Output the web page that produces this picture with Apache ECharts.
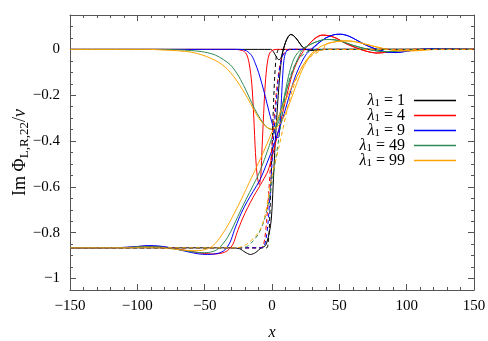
<!DOCTYPE html>
<html>
<head>
<meta charset="utf-8">
<script src="https://cdn.jsdelivr.net/npm/echarts@6/dist/echarts.min.js"></script>
<style>
  html, body { margin: 0; padding: 0; background: #fff; }
  #chart { width: 488px; height: 341px; }
</style>
</head>
<body>
<div id="chart"></div>
<script>
// λ values and line colours
const lambdas = [1, 4, 9, 49, 99];
const colors = ['#000000', '#ff0000', '#0000ff', '#2e8b57', '#ffa500'];

// solid curves starting at -0.866 on the left
const black_A = [[-150,-0.866],[-30,-0.866],[-24,-0.87],[-20,-0.885],[-16,-0.895],[-12,-0.886],[-8,-0.866],[-5.5,-0.86],[-4,-0.845],[-2,-0.8],[-0.5,-0.74],[0.8,-0.6],[2,-0.45],[3.5,-0.3],[5,-0.17],[6.5,-0.07],[8,-0.01],[10,0.03],[12,0.055],[14,0.065],[16,0.06],[19,0.04],[22,0.015],[25,0],[30,-0.004],[40,0],[150,0]];
const red_A = [[-150,-0.866],[-110,-0.865],[-95,-0.859],[-85,-0.86],[-75,-0.866],[-65,-0.876],[-55,-0.887],[-45,-0.893],[-38,-0.89],[-33,-0.878],[-29,-0.85],[-26,-0.8],[-22,-0.74],[-18,-0.69],[-14,-0.645],[-10,-0.605],[-7,-0.575],[-3,-0.53],[0,-0.47],[3,-0.4],[7,-0.3],[11,-0.2],[15,-0.11],[19,-0.05],[23,-0.01],[27,0.02],[32,0.048],[37,0.062],[42,0.06],[48,0.048],[55,0.025],[62,0.008],[70,-0.008],[78,-0.016],[86,-0.012],[95,-0.004],[105,0],[150,0]];
const blue_A = [[-150,-0.866],[-115,-0.865],[-100,-0.86],[-92,-0.856],[-84,-0.858],[-75,-0.866],[-65,-0.88],[-55,-0.892],[-48,-0.895],[-40,-0.89],[-35,-0.875],[-31,-0.84],[-28,-0.79],[-24,-0.73],[-19,-0.67],[-14,-0.62],[-9,-0.57],[-4,-0.5],[0,-0.44],[4,-0.37],[8,-0.3],[12,-0.22],[16,-0.14],[20,-0.08],[25,-0.025],[29,0],[34,0.025],[40,0.05],[46,0.064],[51,0.066],[57,0.058],[63,0.04],[70,0.018],[77,0.002],[84,-0.01],[92,-0.014],[100,-0.008],[110,0],[120,0.003],[130,0.003],[140,0.001],[150,0]];
const green_A = [[-150,-0.866],[-110,-0.865],[-98,-0.861],[-88,-0.861],[-78,-0.866],[-68,-0.875],[-58,-0.884],[-50,-0.887],[-44,-0.882],[-40,-0.87],[-36,-0.845],[-32,-0.81],[-27,-0.75],[-21,-0.675],[-15,-0.605],[-10,-0.545],[-5,-0.47],[0,-0.385],[4,-0.315],[8,-0.235],[12,-0.155],[16,-0.085],[20,-0.03],[23,0],[28,0.02],[34,0.035],[40,0.043],[46,0.042],[53,0.032],[60,0.018],[68,0.005],[76,-0.005],[84,-0.01],[92,-0.008],[100,-0.003],[110,0],[150,0]];
const orange_A = [[-150,-0.866],[-110,-0.866],[-95,-0.864],[-85,-0.866],[-75,-0.87],[-66,-0.876],[-60,-0.878],[-55,-0.878],[-50,-0.874],[-46,-0.865],[-43,-0.852],[-40,-0.832],[-37,-0.807],[-33,-0.77],[-28,-0.715],[-22,-0.645],[-16,-0.57],[-10,-0.495],[-5,-0.43],[0,-0.36],[4,-0.305],[8,-0.25],[13,-0.185],[18,-0.125],[23,-0.07],[28,-0.028],[33,0],[40,0.022],[48,0.034],[55,0.037],[62,0.033],[70,0.022],[78,0.01],[86,0],[95,-0.006],[105,-0.006],[115,-0.002],[125,0],[150,0]];

// solid curves starting at 0 on the left (left part; they meet the A curves at joinX)
const black_B = [[-150,0],[-1,0],[1,-0.01],[3,-0.03],[5,-0.045],[6.5,-0.04],[8,-0.01]];
const red_B = [[-150,0],[-28,0],[-22,-0.005],[-19,-0.02],[-17,-0.06],[-15,-0.15],[-13.5,-0.3],[-12.3,-0.45],[-11,-0.55],[-9.5,-0.59],[-8.3,-0.55],[-7.3,-0.42],[-6.2,-0.28],[-5,-0.15],[-3.5,-0.06],[-2,-0.02],[0,-0.005],[3,0],[23,0]];
const blue_B = [[-150,0],[-24,0],[-19,-0.006],[-15,-0.028],[-12.5,-0.06],[-10,-0.1],[-7.5,-0.15],[-5,-0.205],[-2.5,-0.265],[0,-0.32],[2,-0.36],[3.5,-0.385],[4.8,-0.385],[5.8,-0.34],[6.8,-0.24],[7.8,-0.13],[8.8,-0.05],[10.3,-0.012],[13,0],[28,0]];
const green_B = [[-150,0],[-85,0],[-70,-0.002],[-60,-0.005],[-50,-0.012],[-42,-0.025],[-36,-0.045],[-31,-0.067],[-26,-0.105],[-21,-0.158],[-17,-0.208],[-13,-0.258],[-9,-0.3],[-5,-0.333],[-2,-0.347],[1,-0.35],[4,-0.33],[7,-0.27],[10,-0.18],[13,-0.1],[16,-0.045],[19,-0.015],[22,0]];
const orange_B = [[-150,0],[-92,0],[-80,-0.003],[-70,-0.006],[-60,-0.012],[-52,-0.024],[-45,-0.04],[-40,-0.055],[-35,-0.076],[-31,-0.1],[-26,-0.138],[-22,-0.175],[-18,-0.214],[-14,-0.258],[-10,-0.298],[-6,-0.328],[-3,-0.343],[0,-0.348],[3,-0.343],[6,-0.325],[10,-0.28],[14,-0.22],[18,-0.155],[22,-0.095],[26,-0.05],[30,-0.02],[34,-0.005],[38,0]];
const joinX = [10, 27, 29, 28, 40];

// dashed curves
const black_S = [[-150,-0.866],[-4,-0.866],[-3,-0.85],[-2,-0.78],[-1,-0.62],[0,-0.44],[1,-0.26],[2,-0.12],[3,-0.04],[4,-0.01],[5,0],[150,0]];
const red_S = [[-150,-0.866],[-9,-0.866],[-7,-0.86],[-5.5,-0.83],[-4,-0.75],[-2.5,-0.63],[-1,-0.5],[0.5,-0.38],[2,-0.27],[3.5,-0.17],[5,-0.1],[7,-0.04],[10,-0.01],[14,0],[150,0]];
const blue_S = [[-150,-0.866],[-8,-0.866],[-6,-0.86],[-4.5,-0.83],[-3,-0.76],[-1.5,-0.64],[0,-0.5],[1.5,-0.36],[3,-0.24],[4.5,-0.14],[6,-0.07],[8,-0.025],[11,-0.005],[14,0],[150,0]];
const green_S = [[-150,-0.866],[-22,-0.866],[-18,-0.858],[-14,-0.836],[-10,-0.805],[-6,-0.75],[-3,-0.68],[0,-0.58],[3,-0.47],[6,-0.35],[8,-0.27],[10,-0.2],[13,-0.13],[16,-0.08],[20,-0.04],[25,-0.015],[32,0],[150,0]];
const orange_S = [[-150,-0.866],[-26,-0.866],[-22,-0.86],[-18,-0.847],[-13,-0.82],[-9,-0.79],[-5,-0.72],[-2,-0.62],[0,-0.55],[2.5,-0.49],[5,-0.43],[8,-0.35],[11,-0.27],[14,-0.2],[18,-0.13],[23,-0.07],[28,-0.035],[34,-0.012],[40,0],[150,0]];

// axis ticks
const yMajor = [-1, -0.8, -0.6, -0.4, -0.2, 0];

const FONT = '"Liberation Serif", "DejaVu Serif", serif';
const frame = '#555';

const solidA = [black_A, red_A, blue_A, green_A, orange_A];
const solidB = [black_B, red_B, blue_B, green_B, orange_B];
const dashed = [black_S, red_S, blue_S, green_S, orange_S];
const names = lambdas.map(l => 'l' + l);

function fmt(v) {
  const r = Math.round(v * 10) / 10;
  if (r === 0) return '0';
  return (r < 0 ? '\u2212' : '') + Math.abs(r);
}

function line(name, data, color, type, smooth) {
  return { name: name, type: 'line', data: data, symbol: 'none', smooth: smooth,
    lineStyle: { color: color, width: 1, type: type || 'solid' }, itemStyle: { color: color } };
}

let series = [];
solidA.forEach((a, i) => {
  series.push(line(names[i], a, colors[i], 'solid', i >= 3 ? 0.45 : 0.3));
  let b = solidB[i].concat(a.filter(p => p[0] >= joinX[i]));
  series.push(line(names[i], b, colors[i], 'solid', 0.3));
});
dashed.forEach((d, i) => {
  series.push(line(names[i], d, colors[i], [4, 3], 0.3));
});

const tickStyle = { color: frame, width: 1 };
function xAx(pos, labels) {
  return {
    type: 'value', min: -150, max: 150, interval: 50, position: pos,
    axisLine: { show: true, onZero: false, lineStyle: tickStyle },
    axisTick: { inside: true, length: 6, lineStyle: tickStyle },
    minorTick: { show: true, splitNumber: 5, length: 3, lineStyle: tickStyle },
    splitLine: { show: false },
    axisLabel: { show: labels, margin: 9, color: '#000', fontFamily: FONT, fontSize: 15, formatter: fmt },
    name: labels ? 'x' : '', nameLocation: 'middle', nameGap: 35, nameMoveOverlap: false,
    nameTextStyle: { fontFamily: FONT, fontStyle: 'italic', fontSize: 16, color: '#000' }
  };
}
function yMajorAx(pos, labels) {
  return {
    type: 'value', min: -1.05, max: 0.15, position: pos,
    axisLine: { show: true, onZero: false, lineStyle: tickStyle },
    axisTick: { inside: true, length: 6, lineStyle: tickStyle, customValues: yMajor },
    splitLine: { show: false },
    axisLabel: { show: labels, customValues: yMajor, margin: 10, color: '#000', fontFamily: FONT, fontSize: 15, formatter: fmt },
    name: labels ? '{a|Im \u03A6}{s|L,R,22}{a|/}{i|v}' : '', nameLocation: 'middle', nameGap: 39, nameRotate: 90,
    nameMoveOverlap: false,
    nameTextStyle: {
      color: '#000', fontFamily: FONT, fontSize: 18,
      rich: {
        a: { fontFamily: FONT, fontSize: 18, color: '#000' },
        s: { fontFamily: FONT, fontSize: 13, color: '#000', padding: [9, 0, 0, 0] },
        i: { fontFamily: FONT, fontSize: 18, fontStyle: 'italic', color: '#000' }
      }
    }
  };
}
function yMinorAx(pos) {
  return {
    type: 'value', min: -1.05, max: 0.15, interval: 0.05, position: pos,
    axisLine: { show: false, onZero: false },
    axisTick: { inside: true, length: 3, lineStyle: tickStyle },
    splitLine: { show: false },
    axisLabel: { show: false }
  };
}

const chart = echarts.init(document.getElementById('chart'), null, { renderer: 'canvas' });
chart.setOption({
  animation: false,
  backgroundColor: '#fff',
  grid: { left: 70, right: 14, top: 15, bottom: 51, containLabel: false, outerBoundsMode: 'none' },
  xAxis: [xAx('bottom', true), xAx('top', false)],
  yAxis: [yMajorAx('left', true), yMinorAx('left'), yMajorAx('right', false), yMinorAx('right')],
  legend: {
    data: names, orient: 'vertical', right: 27, top: 87, align: 'right',
    icon: 'path://M0,0 L40,0 L40,1.5 L0,1.5 Z',
    itemWidth: 42, itemHeight: 1.6, itemGap: -2,
    formatter: n => '{g|\u03BB}{s|1}{t| = ' + n.slice(1) + '}',
    textStyle: {
      color: '#000', fontFamily: FONT, fontSize: 16, lineHeight: 14,
      rich: {
        g: { fontFamily: FONT, fontSize: 16, fontStyle: 'italic', color: '#000', lineHeight: 14 },
        s: { fontFamily: FONT, fontSize: 11, color: '#000', padding: [6, 0, 0, 0], lineHeight: 8 },
        t: { fontFamily: FONT, fontSize: 16, color: '#000', padding: [0, 4, 0, 0], lineHeight: 14 }
      }
    }
  },
  series: series
});
</script>
</body>
</html>
